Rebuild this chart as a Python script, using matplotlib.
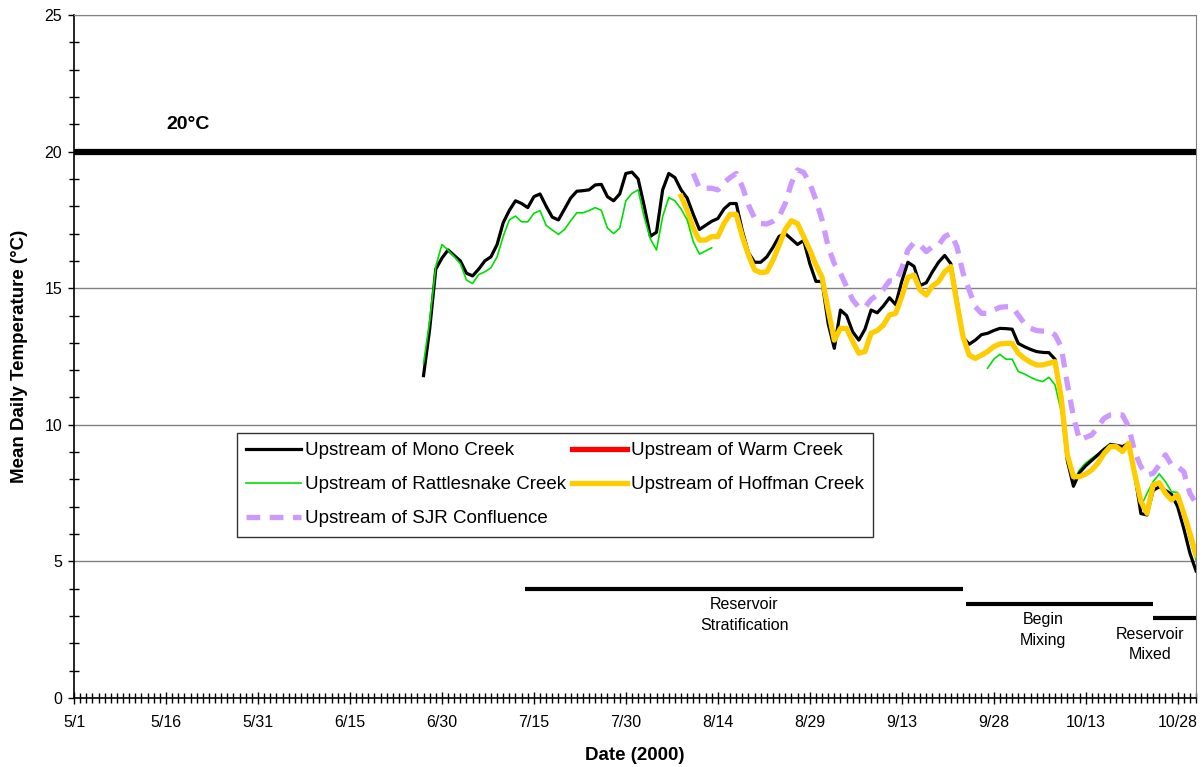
import numpy as np
import pandas as pd
import matplotlib
matplotlib.use("Agg")
import matplotlib.pyplot as plt

plt.rcParams['font.family'] = ['Liberation Sans', 'DejaVu Sans']

# daily mean temperatures (deg C)
mono_start = '2000-06-27'
mono = [11.8, 13.5, 15.7, 16.1, 16.4, 16.2, 16.0, 15.55, 15.45, 15.7,
        16.0, 16.15, 16.6, 17.4, 17.85, 18.2, 18.1, 17.95, 18.35, 18.45,
        18.0, 17.6, 17.5, 17.9, 18.3, 18.55, 18.57, 18.6, 18.78, 18.8,
        18.35, 18.2, 18.45, 19.2, 19.25, 19.0, 18.0, 16.9, 17.05, 18.6,
        19.2, 19.05, 18.6, 18.3, 17.7, 17.15, 17.3, 17.45, 17.55, 17.9,
        18.1, 18.1, 17.1, 16.3, 15.95, 15.95, 16.15, 16.5, 16.9, 17.0,
        16.8, 16.6, 16.75, 15.9, 15.25, 15.25, 13.7, 12.8, 14.2, 14.0,
        13.4, 13.1, 13.5, 14.2, 14.1, 14.35, 14.65, 14.4, 15.25, 15.95,
        15.8, 15.1, 15.2, 15.6, 15.95, 16.2, 15.9, 14.6, 13.2, 12.95,
        13.1, 13.3, 13.35, 13.45, 13.53, 13.52, 13.5, 12.98, 12.86, 12.76,
        12.68, 12.65, 12.64, 12.4, 11.0, 8.7, 7.75, 8.25, 8.5, 8.7,
        8.9, 9.1, 9.27, 9.25, 9.2, 9.32, 8.2, 6.75, 6.7, 7.6,
        7.73, 7.6, 7.45, 7.0, 6.2, 5.3, 4.65]

rattle1_start = '2000-06-27'
rattle1 = [12.25, 13.8, 15.8, 16.6, 16.4, 16.15, 15.9, 15.3, 15.17, 15.5,
           15.6, 15.75, 16.15, 16.9, 17.5, 17.64, 17.43, 17.43, 17.74, 17.84,
           17.3, 17.13, 16.97, 17.15, 17.47, 17.76, 17.76, 17.84, 17.95, 17.85,
           17.2, 17.0, 17.2, 18.2, 18.47, 18.6, 17.6, 16.8, 16.4, 17.62,
           18.32, 18.2, 17.9, 17.5, 16.7, 16.25, 16.36, 16.48]
rattle2_start = '2000-09-27'
rattle2 = [12.07, 12.4, 12.58, 12.4, 12.4, 11.95, 11.86, 11.74, 11.64, 11.58,
           11.74, 11.46, 10.5, 8.6, 7.92, 8.35, 8.6, 8.77, 8.93, 9.14,
           9.32, 9.25, 9.2, 9.38, 8.0, 7.0, 7.49, 7.92, 8.2, 7.92,
           7.55, 7.52, 6.76, 5.78, 5.05]

hoffman_start = '2000-08-08'
hoffman = [18.37, 17.86, 17.19, 16.76, 16.76, 16.89, 16.89, 17.37, 17.7, 17.7,
           16.89, 16.22, 15.67, 15.57, 15.6, 16.03, 16.58, 17.15, 17.47, 17.37,
           16.89, 16.4, 15.85, 15.4, 14.2, 13.1, 13.53, 13.53, 13.05, 12.62,
           12.68, 13.35, 13.45, 13.65, 14.02, 14.08, 14.69, 15.4, 15.48, 14.93,
           14.75, 15.08, 15.24, 15.6, 15.79, 14.45, 13.22, 12.55, 12.43, 12.55,
           12.68, 12.86, 12.96, 12.98, 12.98, 12.62, 12.43, 12.29, 12.19, 12.19,
           12.25, 12.31, 11.0, 8.9, 8.1, 8.1, 8.2, 8.35, 8.6, 8.95,
           9.2, 9.2, 9.02, 9.32, 8.2, 7.2, 6.76, 7.8, 7.88, 7.49,
           7.25, 7.43, 6.76, 6.03, 5.23]

sjr_start = '2000-08-10'
sjr = [19.2, 18.66, 18.66, 18.66, 18.6, 18.86, 19.05, 19.2, 18.72, 18.05,
       17.56, 17.37, 17.35, 17.45, 17.62, 18.1, 18.84, 19.33, 19.24, 18.84,
       18.23, 17.5, 16.52, 15.9, 15.55, 15.06, 14.57, 14.3, 14.3, 14.59,
       14.75, 14.96, 15.27, 15.24, 15.73, 16.4, 16.67, 16.58, 16.34, 16.52,
       16.58, 16.89, 17.0, 16.52, 15.55, 14.93, 14.32, 14.08, 14.08, 14.2,
       14.3, 14.32, 14.32, 14.02, 13.71, 13.53, 13.45, 13.43, 13.43, 13.29,
       12.86, 11.5, 10.3, 9.44, 9.54, 9.63, 9.93, 10.24, 10.36, 10.37,
       10.36, 9.93, 9.0, 8.47, 8.16, 8.22, 8.53, 8.9, 8.53, 8.47,
       8.28, 7.49, 7.12]

# reservoir condition periods
periods = ['Reservoir\nStratification', 'Begin\nMixing', 'Reservoir\nMixed']
period_start = ['2000-07-13 12:00', '2000-09-23 12:00', '2000-10-24']
period_end = ['2000-09-23', '2000-10-24', '2000-10-31']
period_level = [4.0, 3.45, 2.93]
period_text_x = ['2000-08-18 08:00', '2000-10-06', '2000-10-23 12:00']

tick_dates = pd.date_range('2000-05-01', periods=13, freq='15D')
tick_labels = ['5/1', '5/16', '5/31', '6/15', '6/30', '7/15', '7/30',
               '8/14', '8/29', '9/13', '9/28', '10/13', '10/28']


def series_dates(start, values):
    return pd.date_range(start, periods=len(values), freq='D')


fig = plt.figure(figsize=(12.04, 7.67), dpi=100)
ax = fig.add_axes([0.0615, 0.09, 0.9319, 0.8904])

ax.axhline(20, color='black', lw=4.5, zorder=2)
ax.text(pd.Timestamp('2000-05-16'), 21.0, '20°C', fontsize=14, fontweight='bold',
        ha='left', va='center')

ax.plot(series_dates(mono_start, mono), mono, color='black', lw=2.3,
        label='Upstream of Mono Creek', zorder=4)
ax.plot(series_dates(rattle1_start, rattle1), rattle1, color='#00E000', lw=1.2,
        label='Upstream of Rattlesnake Creek', zorder=5)
ax.plot(series_dates(rattle2_start, rattle2), rattle2, color='#00E000', lw=1.2, zorder=3)
ax.plot(series_dates(sjr_start, sjr), sjr, color='#CC99FF', lw=3.8,
        dashes=(2.6, 1.8), label='Upstream of SJR Confluence', zorder=3)
ax.plot([], [], color='red', lw=3.8, label='Upstream of Warm Creek')
ax.plot(series_dates(hoffman_start, hoffman), hoffman, color='#FFCC00', lw=3.8,
        label='Upstream of Hoffman Creek', zorder=4)

for name, s, e, lvl, tx in zip(periods, period_start, period_end, period_level, period_text_x):
    ax.plot([pd.Timestamp(s), pd.Timestamp(e)], [lvl, lvl], color='black', lw=3,
            solid_capstyle='butt', clip_on=False)
    ax.text(pd.Timestamp(tx), lvl - 0.32, name, ha='center', va='top', fontsize=11.5,
            linespacing=1.45)

ax.set_xlim(pd.Timestamp('2000-05-01'), pd.Timestamp('2000-10-31'))
ax.set_ylim(0, 25)
ax.set_xticks(tick_dates)
ax.set_xticklabels(tick_labels)
ax.set_xticks(pd.date_range('2000-05-01', '2000-10-31', freq='D'), minor=True)
ax.set_yticks(range(0, 26, 5))
ax.set_yticks(range(0, 26), minor=True)

ax.tick_params(axis='x', which='major', direction='inout', length=8.5, width=1, labelsize=11.5, pad=8)
ax.tick_params(axis='x', which='minor', direction='inout', length=6.5, width=1)
ax.tick_params(axis='y', which='major', direction='out', length=4.5, width=1, labelsize=11.5, pad=4)
ax.tick_params(axis='y', which='minor', direction='inout', length=6.5, width=1)

ax.yaxis.grid(True, which='major', color='#808080', lw=1)
ax.set_axisbelow(True)
for side in ['top', 'right']:
    ax.spines[side].set_color('#808080')
for side in ['left', 'bottom']:
    ax.spines[side].set_color('black')
    ax.spines[side].set_linewidth(1.2)

ax.set_ylabel('Mean Daily Temperature (°C)', fontsize=13.5, fontweight='bold', labelpad=12)
ax.set_xlabel('Date (2000)', fontsize=13.5, fontweight='bold', labelpad=12)

leg = ax.legend(loc='lower left', bbox_to_anchor=(0.145, 0.236), ncol=2, fontsize=13.5,
                frameon=True, fancybox=False, edgecolor='black', borderaxespad=0,
                handlelength=2.95, handletextpad=0.2, columnspacing=0.3,
                labelspacing=0.9, borderpad=0.5)
leg.get_frame().set_linewidth(1)

fig.savefig('out.png', dpi=100)
